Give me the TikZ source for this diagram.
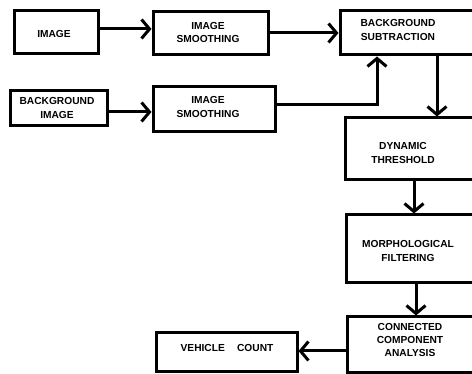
\documentclass[tikz,border=0pt]{standalone}
\usepackage{fontspec}
\setmainfont{Liberation Sans}
\usetikzlibrary{arrows.meta}
\tikzset{
  box/.style={draw, line width=3pt, rectangle, inner sep=0pt},
  txt/.style={font=\fontsize{10.2}{13.3}\selectfont\bfseries, align=center, inner sep=0pt},
  arr/.style={line width=3pt, -{Straight Barb[length=8pt,width=19pt,line width=3pt]}}
}
\begin{document}
\begin{tikzpicture}[x=1pt,y=-1pt]
\useasboundingbox (0,0) rectangle (472,374);
% left/top boxes
\node[box, minimum width=84pt, minimum height=43pt] (img) at (56,32.5) {};
\node[txt] (imgt) at (54,34) {IMAGE};
\node[box, minimum width=115pt, minimum height=43pt] (is1) at (210.5,33.5) {};
\node[txt] (is1t) at (208,32.5) {IMAGE\\SMOOTHING};
\node[box, minimum width=97pt, minimum height=35pt] (bg) at (58.5,108.5) {};
\node[txt] (bgt) at (57,108) {BACKGROUND\\IMAGE};
\node[box, minimum width=122pt, minimum height=45pt] (is2) at (214,109.5) {};
\node[txt] (is2t) at (208,107) {IMAGE\\SMOOTHING};
% right column boxes (run past the right edge)
\node[box, minimum width=140pt, minimum height=44pt] (bs) at (410,33) {};
\node[txt] (bst) at (398,30) {BACKGROUND\\SUBTRACTION};
\node[box, minimum width=135pt, minimum height=62pt] (dt) at (412.5,149) {};
\node[txt] (dtt) at (403,153) {DYNAMIC\\THRESHOLD};
\node[box, minimum width=134pt, minimum height=68pt] (mf) at (413,249) {};
\node[txt] (mft) at (408,251) {MORPHOLOGICAL\\FILTERING};
\node[box, minimum width=133pt, minimum height=56pt] (cca) at (413.5,345) {};
\node[txt] (ccat) at (410,340) {CONNECTED\\COMPONENT\\ANALYSIS};
\node[box, minimum width=141pt, minimum height=39pt] (vc) at (226.5,352.5) {};
\node[txt] (vct) at (227,348) {VEHICLE\hspace{1.2em}COUNT};
% connectors
\draw[arr] (img.east |- 0,29) -- (is1.west |- 0,29);
\draw[arr] (is1.east |- 0,33) -- (bs.west |- 0,33);
\draw[arr] (bg.east |- 0,112) -- (is2.west |- 0,112);
\coordinate (bend) at (377,105);
\draw[arr] (is2.east |- bend) -- (bend) -- (bs.south -| bend);
\draw[arr] (bs.south -| 437,0) -- (dt.north -| 437,0);
\draw[arr] (dt.south -| 414,0) -- (mf.north -| 414,0);
\draw[arr] (mf.south -| 416,0) -- (cca.north -| 416,0);
\draw[arr] (cca.west |- 0,351) -- (vc.east |- 0,351);
\end{tikzpicture}
\end{document}
